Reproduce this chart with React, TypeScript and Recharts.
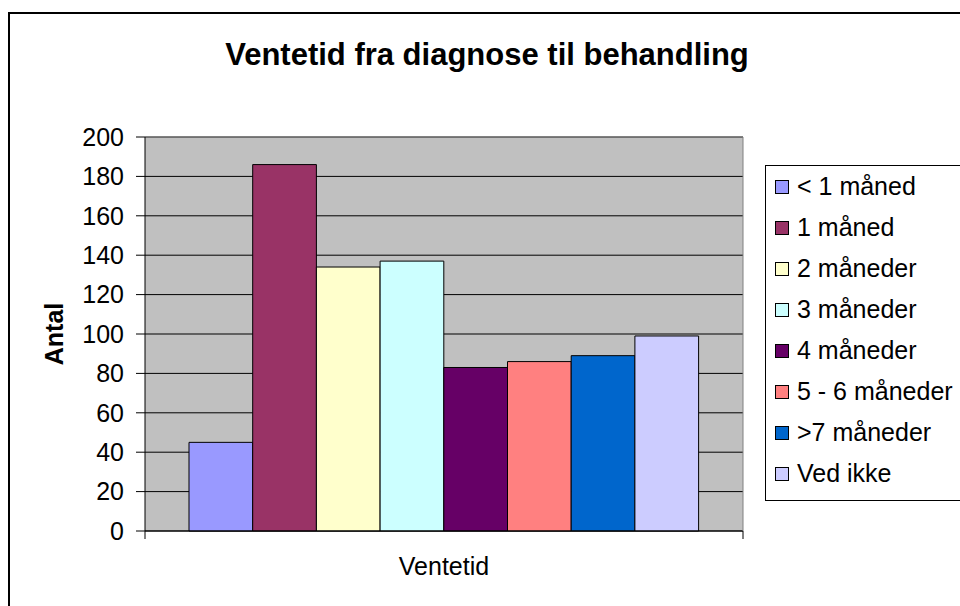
import React from 'react';
import {
  BarChart,
  Bar,
  XAxis,
  YAxis,
  CartesianGrid,
  Legend,
  ReferenceLine,
} from 'recharts';

// one category, sitting in the middle of a 0..1 x range so the axis can show the edge ticks
const categories = ['Ventetid'];
const categoryPos = [0.5];
const seriesNames = [
  '< 1 måned',
  '1 måned',
  '2 måneder',
  '3 måneder',
  '4 måneder',
  '5 - 6 måneder',
  '>7 måneder',
  'Ved ikke',
];
const seriesValues = [45, 186, 134, 137, 83, 86, 89, 99];
const seriesColors = [
  '#9999FF',
  '#993366',
  '#FFFFCC',
  '#CCFFFF',
  '#660066',
  '#FF8080',
  '#0066CC',
  '#CCCCFF',
];
const yTicks = [0, 20, 40, 60, 80, 100, 120, 140, 160, 180, 200];

const FONT = '"Liberation Sans", Arial, sans-serif';

const data = categories.map((name, c) => {
  const row: Record<string, string | number> = { name, x: categoryPos[c] };
  seriesValues.forEach((v, i) => {
    row[`s${i}`] = v;
  });
  return row;
});

function LegendBox() {
  return (
    <div
      style={{
        border: '1px solid #000',
        background: '#fff',
        width: 220,
        height: 336,
        boxSizing: 'border-box',
        fontFamily: FONT,
        fontSize: 25,
        color: '#000',
      }}
    >
      {seriesNames.map((n, i) => (
        <div
          key={n}
          style={{ height: 41, display: 'flex', alignItems: 'center', paddingLeft: 9 }}
        >
          <span
            style={{
              display: 'inline-block',
              width: 12,
              height: 12,
              border: '1px solid #000',
              background: seriesColors[i],
              marginRight: 8,
            }}
          />
          <span style={{ whiteSpace: 'nowrap', lineHeight: '25px' }}>{n}</span>
        </div>
      ))}
    </div>
  );
}

export default function App() {
  return (
    <div
      style={{
        position: 'absolute',
        left: 0,
        top: 0,
        width: 960,
        height: 606,
        overflow: 'hidden',
        background: '#fff',
        fontFamily: FONT,
      }}
    >
      <div
        style={{
          position: 'absolute',
          left: 8,
          top: 12,
          width: 1000,
          height: 640,
          border: '2px solid #000',
        }}
      />
      <div
        style={{
          position: 'absolute',
          left: 187,
          width: 600,
          top: 39,
          textAlign: 'center',
          fontSize: 31,
          lineHeight: '31px',
          fontWeight: 'bold',
          color: '#000',
        }}
      >
        Ventetid fra diagnose til behandling
      </div>
      <div style={{ position: 'absolute', left: 0, top: 0 }}>
        <BarChart
          width={960}
          height={606}
          data={data}
          margin={{ top: 137, right: 216, bottom: 0, left: 45 }}
          barSize={63.7}
          barGap={0}
        >
          <CartesianGrid
            vertical={false}
            stroke="#000"
            strokeWidth={1}
            fill="#C0C0C0"
            fillOpacity={1}
          />
          <XAxis
            dataKey="x"
            type="number"
            domain={[0, 1]}
            ticks={[0, 1]}
            tickFormatter={() => ''}
            tickSize={8}
            height={75}
            axisLine={{ stroke: '#000' }}
            tickLine={{ stroke: '#000' }}
            label={{
              value: categories[0],
              position: 'insideTop',
              offset: 26,
              fill: '#000',
              fontSize: 25,
              fontFamily: FONT,
            }}
          />
          <YAxis
            width={100}
            domain={[0, 200]}
            ticks={yTicks}
            interval={0}
            tickSize={9}
            tickMargin={12}
            axisLine={{ stroke: '#000' }}
            tickLine={{ stroke: '#000' }}
            tick={{ fill: '#000', fontSize: 25, fontFamily: FONT }}
            label={{
              value: 'Antal',
              angle: -90,
              position: 'center',
              dx: -41,
              fill: '#000',
              fontSize: 25,
              fontWeight: 'bold',
              fontFamily: FONT,
            }}
          />
          <YAxis
            yAxisId="r"
            orientation="right"
            width={1}
            domain={[0, 200]}
            tick={false}
            tickLine={false}
            axisLine={{ stroke: '#808080' }}
          />
          <ReferenceLine y={200} stroke="#808080" strokeWidth={1} />
          {seriesNames.map((n, i) => (
            <Bar
              key={n}
              dataKey={`s${i}`}
              name={n}
              fill={seriesColors[i]}
              stroke="#000"
              strokeWidth={1}
              isAnimationActive={false}
            />
          ))}
          <Legend
            layout="vertical"
            align="center"
            verticalAlign="middle"
            content={<LegendBox />}
            wrapperStyle={{ left: 765, top: 165, width: 220, height: 336 }}
          />
        </BarChart>
      </div>
    </div>
  );
}
